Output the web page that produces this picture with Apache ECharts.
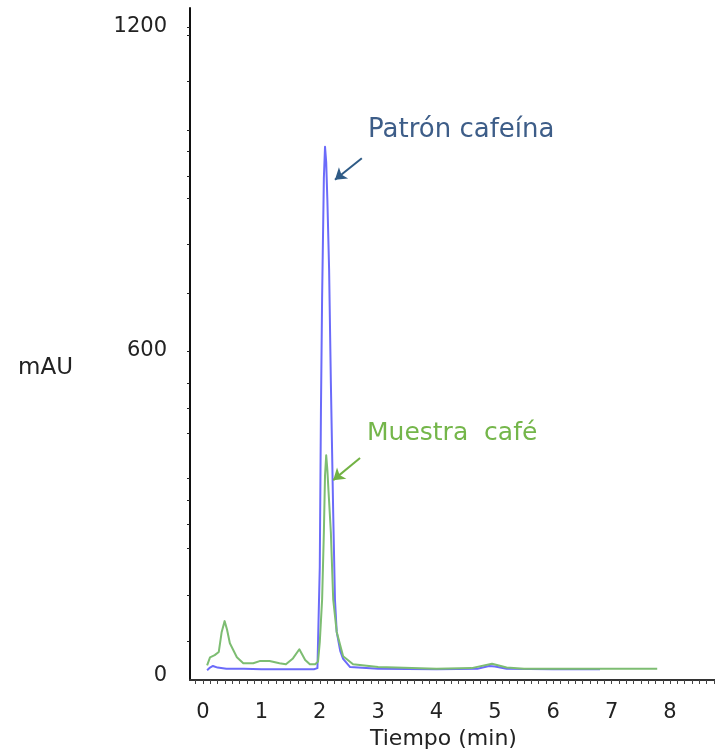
<!DOCTYPE html>
<html>
<head>
<meta charset="utf-8">
<script src="https://cdn.jsdelivr.net/npm/echarts@6/dist/echarts.min.js"></script>
<style>
  html, body { margin: 0; padding: 0; background: #fff; }
  #chart { width: 715px; height: 753px; }
</style>
</head>
<body>
<div id="chart"></div>
<script>
const tiempoPatron = [0.07, 0.12, 0.17, 0.25, 0.4, 0.7, 1.0, 1.5, 1.9, 1.96, 2.0, 2.02, 2.04, 2.07, 2.09, 2.11, 2.13, 2.16, 2.19, 2.23, 2.26, 2.29, 2.35, 2.4, 2.52, 3.0, 4.0, 4.7, 4.9, 5.0, 5.2, 6.0, 6.8]
const valorPatron = [9, 14, 17, 14, 12, 12, 11, 11, 11, 13, 200, 490, 700, 920, 978, 950, 880, 750, 541, 300, 140, 80, 45, 30, 15, 12, 11, 12, 17, 16, 12, 11, 11]

const tiempoMuestra = [0.07, 0.12, 0.2, 0.27, 0.32, 0.37, 0.41, 0.46, 0.58, 0.69, 0.86, 0.97, 1.14, 1.31, 1.42, 1.54, 1.65, 1.75, 1.83, 1.92, 1.97, 2.0, 2.04, 2.07, 2.09, 2.11, 2.13, 2.15, 2.19, 2.23, 2.29, 2.4, 2.57, 3.0, 3.3, 4.0, 4.6, 4.95, 5.2, 5.5, 6.0, 7.0, 7.78]
const valorMuestra = [18, 33, 37, 43, 80, 100, 85, 59, 33, 22, 22, 26, 26, 22, 20, 31, 48, 28, 20, 20, 25, 61, 140, 264, 370, 407, 380, 340, 264, 140, 80, 35, 20, 15, 14, 12, 13, 21, 14, 12, 12, 12, 12]

const etiquetasX = [0, 1, 2, 3, 4, 5, 6, 7, 8]
const etiquetasY = [0, 600, 1200]
const ticksY = [63, 148, 235, 280, 324, 365, 448, 494, 541, 600, 707, 798, 883, 924, 969, 1009, 1100, 1185, 1200]

// ticks menores del eje x cada 1/8 min
const ticksX = []
for (let i = -1; i <= 70; i++) {
    ticksX.push(i / 8)
}

const chartDiv = document.getElementById('chart')
const myChart = echarts.init(chartDiv)

const fuente = 'DejaVu Sans'

myChart.setOption({
    animation: false,
    grid: { left: 190, right: 0, top: 8, bottom: 73 },
    xAxis: {
        type: 'value',
        min: -0.223,
        max: 8.77,
        axisLine: { show: true, onZero: false, lineStyle: { color: '#333', width: 2 } },
        axisTick: { show: true, customValues: ticksX, length: 4, lineStyle: { color: '#444', width: 1 } },
        axisLabel: { customValues: etiquetasX, margin: 22, fontFamily: fuente, fontSize: 21, color: '#222', formatter: (v) => String(v) },
        splitLine: { show: false }
    },
    yAxis: {
        type: 'value',
        min: -9,
        max: 1235,
        axisLine: { show: true, onZero: false, lineStyle: { color: '#111', width: 2 } },
        axisTick: { show: true, customValues: ticksY, length: 3, lineStyle: { color: '#222', width: 1 } },
        axisLabel: { customValues: etiquetasY, margin: 23, fontFamily: fuente, fontSize: 21, color: '#222', formatter: (v) => String(v) },
        splitLine: { show: false }
    },
    series: [
        {
            name: 'Patrón cafeína',
            type: 'line',
            showSymbol: false,
            lineStyle: { color: '#6b6bfa', width: 2, join: 'round' },
            data: tiempoPatron.map((t, i) => [t, valorPatron[i]]),
            markLine: {
                silent: true,
                symbol: ['none', 'arrow'],
                symbolSize: 11,
                label: { show: false },
                lineStyle: { color: '#2f5b86', width: 2, type: 'solid' },
                data: [[{ coord: [2.72, 957] }, { coord: [2.26, 917] }]]
            }
        },
        {
            name: 'Muestra café',
            type: 'line',
            showSymbol: false,
            lineStyle: { color: '#7dbd72', width: 2, join: 'round' },
            data: tiempoMuestra.map((t, i) => [t, valorMuestra[i]]),
            markLine: {
                silent: true,
                symbol: ['none', 'arrow'],
                symbolSize: 11,
                label: { show: false },
                lineStyle: { color: '#72b244', width: 2, type: 'solid' },
                data: [[{ coord: [2.69, 402] }, { coord: [2.23, 361] }]]
            }
        }
    ],
    graphic: [
        {
            type: 'text', left: 368, top: 117,
            style: { text: 'Patrón cafeína', font: '26px "DejaVu Sans"', fill: '#3d5d88' }
        },
        {
            type: 'text', left: 367, top: 421,
            style: { text: 'Muestra  café', font: '25px "DejaVu Sans"', fill: '#74b64a' }
        },
        {
            type: 'text', left: 18, top: 357,
            style: { text: 'mAU', font: '23px "DejaVu Sans"', fill: '#222' }
        },
        {
            type: 'text', left: 370, top: 728,
            style: { text: 'Tiempo (min)', font: '22px "DejaVu Sans"', fill: '#222' }
        }
    ]
})
</script>
</body>
</html>
